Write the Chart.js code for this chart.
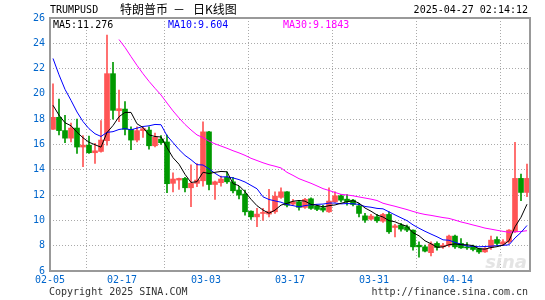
<!DOCTYPE html>
<html>
<head>
<meta charset="utf-8">
<script src="https://cdn.jsdelivr.net/npm/chart.js@4"></script>
<style>
html, body { margin: 0; padding: 0; background: #fff; }
</style>
</head>
<body>
<canvas id="chart" width="545" height="300"></canvas>
<script>
// daily candles, 02-05 .. 04-25
const dates = [
  "02-05","02-06","02-07","02-08","02-09","02-10","02-11","02-12","02-13","02-14",
  "02-15","02-16","02-17","02-18","02-19","02-20","02-21","02-22","02-23","02-24",
  "02-25","02-26","02-27","02-28","03-01","03-02","03-03","03-04","03-05","03-06",
  "03-07","03-08","03-09","03-10","03-11","03-12","03-13","03-14","03-15","03-16",
  "03-17","03-18","03-19","03-20","03-21","03-22","03-23","03-24","03-25","03-26",
  "03-27","03-28","03-29","03-30","03-31","04-01","04-02","04-03","04-04","04-05",
  "04-06","04-07","04-08","04-09","04-10","04-11","04-12","04-13","04-14","04-15",
  "04-16","04-17","04-18","04-19","04-20","04-21","04-22","04-23","04-24","04-25"
];
const opens = [
  17.2,18.15,17.1,16.5,17.3,15.8,15.95,15.35,15.45,16.3,
  21.6,18.67,18.8,17.2,16.35,17.1,17.14,15.9,16.43,16.2,
  12.93,13.19,13.32,12.58,12.93,13.13,17.0,12.84,12.98,13.4,
  13.05,12.4,12.08,10.73,10.28,10.55,10.5,10.68,11.82,12.26,
  11.29,11.47,11.03,11.71,11.13,11.0,10.68,11.47,11.95,11.68,
  11.6,11.15,10.36,10.1,10.28,9.94,10.47,9.44,9.63,9.5,
  9.23,8.04,7.91,7.45,8.18,7.91,8.04,8.76,8.18,7.91,
  7.97,7.78,7.51,7.86,8.49,8.12,8.31,9.1,13.32,12.21
];
const highs = [
  20.8,19.6,18.3,17.7,18.0,16.7,16.67,16.1,17.9,24.65,
  22.5,20.3,19.4,17.4,17.4,17.4,17.4,16.9,16.7,16.75,
  13.77,13.35,13.4,14.4,14.5,17.8,17.05,13.1,13.5,13.84,
  13.4,12.7,12.4,10.75,10.95,10.95,12.45,12.26,12.58,12.28,
  11.66,11.55,11.74,11.79,11.2,11.2,12.58,12.26,12.05,12.05,
  11.66,11.34,10.55,10.47,10.47,10.55,10.68,9.68,9.76,9.63,
  9.25,8.3,8.04,8.3,8.3,8.18,8.84,8.84,8.57,8.25,
  8.04,7.8,7.86,8.76,8.7,8.49,9.28,16.17,13.66,14.45
];
const lows = [
  17.2,16.75,16.15,16.2,15.3,14.25,15.3,14.5,15.4,15.95,
  18.0,17.8,16.75,15.6,16.2,16.55,15.64,15.8,16.0,12.2,
  12.26,12.45,12.26,11.08,12.66,12.7,12.4,11.66,12.7,12.93,
  12.18,11.7,10.42,10.08,9.5,10.0,10.28,10.55,11.74,11.07,
  11.2,10.81,10.95,10.87,10.76,10.68,10.63,11.42,11.47,11.2,
  11.15,10.28,9.84,10.02,9.84,9.84,8.97,8.7,9.15,9.1,
  7.65,7.1,7.51,7.2,7.65,7.78,7.91,7.78,7.78,7.7,
  7.59,7.39,7.47,7.7,8.04,8.04,8.18,9.05,11.55,11.87
];
const closes = [
  18.15,17.1,16.5,17.3,15.8,15.95,15.35,15.5,16.35,21.6,
  18.7,18.83,17.2,16.35,17.1,17.25,15.9,16.57,16.14,12.9,
  13.27,13.32,12.58,12.93,13.19,17.0,12.84,13.05,13.27,13.05,
  12.34,12.0,10.68,10.28,10.5,10.63,10.73,11.92,12.26,11.2,
  11.47,11.03,11.66,10.95,10.87,10.81,11.53,11.95,11.6,11.47,
  11.26,10.55,10.02,10.34,9.97,10.47,9.1,9.57,9.31,9.23,
  7.91,7.91,7.57,8.14,7.86,8.04,8.76,7.91,7.83,7.83,
  7.7,7.51,7.78,8.44,8.18,8.31,9.23,13.32,12.21,13.32
];
// closes before the window (01-18 .. 02-04), estimated from the MA lines
const priorCloses = [36,38,38,37,34,33,32,32,32,30,28,26,25,23.5,21,19.5,18.5,18.35];

const tickLabels = ["02-05","02-17","03-03","03-17","03-31","04-14"];
const maLegend = ["MA5:11.276", "MA10:9.604", "MA30:9.1843"];

const UP = "#ff5555", DOWN = "#009900";
const candleColor = closes.map((c, i) => c >= opens[i] ? UP : DOWN);

function movingAvg(n) {
  const all = priorCloses.concat(closes);
  return closes.map((c, i) => {
    const end = priorCloses.length + i;
    if (end + 1 < n) return null;
    let s = 0;
    for (let k = end - n + 1; k <= end; k++) s += all[k];
    return s / n;
  });
}
const pts = arr => arr.map((v, i) => ({ x: i + 0.5, y: v }));

const tickIdx = tickLabels.map(t => dates.indexOf(t));

const frame = {
  id: "frame",
  beforeDraw(chart) {
    const c = chart.ctx;
    c.save();
    c.fillStyle = "#fff";
    c.fillRect(0, 0, chart.width, chart.height);
    c.restore();
  },
  beforeDatasetsDraw(chart) {
    const c = chart.ctx, a = chart.chartArea;
    c.save();
    c.fillStyle = "#e4e4e4";
    c.font = "italic bold 18px 'DejaVu Sans'";
    c.textAlign = "right";
    c.textBaseline = "alphabetic";
    c.fillText("sina", a.right - 3, a.bottom - 3);
    c.restore();
  },
  afterDraw(chart) {
    const c = chart.ctx, a = chart.chartArea;
    c.save();
    c.strokeStyle = "#999";
    c.lineWidth = 2;
    c.strokeRect(a.left, a.top, a.right - a.left, a.bottom - a.top);

    c.textBaseline = "middle";
    c.font = "10px 'DejaVu Sans Mono'";
    c.fillStyle = "#000";
    c.textAlign = "left";
    c.fillText("TRUMPUSD", 50, 10);
    c.font = "12px 'Noto Sans CJK SC'";
    c.fillText("特朗普币", 120, 9);
    c.fillText("－", 173, 9);
    c.fillText("日K线图", 193, 9);
    c.font = "10px 'DejaVu Sans Mono'";
    c.textAlign = "right";
    c.fillText("2025-04-27 02:14:12", 528, 10);

    c.textAlign = "left";
    c.fillStyle = "#000";
    c.fillText(maLegend[0], 53, 25);
    c.fillStyle = "#0000ff";
    c.fillText(maLegend[1], 168, 25);
    c.fillStyle = "#ff00ff";
    c.fillText(maLegend[2], 283, 25);

    c.fillStyle = "#333";
    c.fillText("Copyright 2025 SINA.COM", 49, 292);
    c.textAlign = "right";
    c.fillText("http://finance.sina.com.cn", 528, 292);
    c.restore();
  }
};

new Chart(document.getElementById("chart"), {
  type: "bar",
  data: {
    datasets: [
      {
        type: "line", data: pts(movingAvg(5)), borderColor: "#000",
        borderWidth: 1, pointRadius: 0, order: 1
      },
      {
        type: "line", data: pts(movingAvg(10)), borderColor: "#0000ff",
        borderWidth: 1, pointRadius: 0, order: 1
      },
      {
        type: "line", data: pts(movingAvg(30)), borderColor: "#ff00ff",
        borderWidth: 1, pointRadius: 0, order: 1
      },
      {
        data: opens.map((o, i) => ({ x: i + 0.5, y: [o, closes[i]] })),
        backgroundColor: candleColor, barThickness: 5, minBarLength: 1,
        grouped: false, order: 2
      },
      {
        data: lows.map((l, i) => ({ x: i + 0.5, y: [l, highs[i]] })),
        backgroundColor: candleColor, barThickness: 1,
        grouped: false, order: 3
      }
    ]
  },
  options: {
    responsive: false,
    animation: false,
    devicePixelRatio: 1,
    layout: { padding: { top: 18, right: 15, left: 0, bottom: 0 } },
    plugins: { legend: { display: false }, tooltip: { enabled: false } },
    scales: {
      x: {
        type: "linear", min: 0, max: dates.length, offset: false,
        afterBuildTicks: s => { s.ticks = tickIdx.map(v => ({ value: v })); },
        afterFit: s => { s.height = 29; },
        ticks: {
          callback: v => dates[v], color: "#0066cc", maxRotation: 0,
          autoSkip: false, padding: 3,
          font: { family: "DejaVu Sans Mono", size: 10 }
        },
        grid: { color: "#aaa", drawTicks: false },
        border: { display: false, dash: [1, 2] }
      },
      y: {
        min: 6, max: 26,
        afterFit: s => { s.width = 50; },
        ticks: {
          stepSize: 2, color: "#0066cc", padding: 5,
          font: { family: "DejaVu Sans Mono", size: 10 }
        },
        grid: { color: "#aaa", drawTicks: false },
        border: { display: false, dash: [1, 2] }
      }
    }
  },
  plugins: [frame]
});
</script>
</body>
</html>
